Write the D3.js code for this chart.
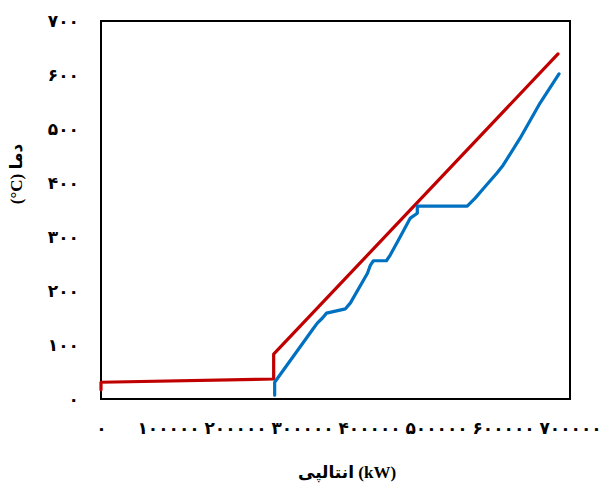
<!DOCTYPE html>
<html><head><meta charset="utf-8">
<script src="https://cdn.jsdelivr.net/npm/d3@7"></script>
<style>
body{margin:0;background:#fff;}
text{font-family:"Liberation Serif","DejaVu Sans",serif;font-weight:bold;fill:#000;}
</style></head>
<body><svg id="c" width="603" height="486"></svg>
<script>
// Hot stream (red)
const hotEnthalpy = [0, 0, 257700, 257700, 682100];
const hotTemp = [17, 31, 37, 83, 639];
// Cold stream (blue)
const coldEnthalpy = [259200, 259200, 317200, 323200, 330600, 336600, 364900, 372300, 397700, 402100, 406600, 426000, 431900, 443800, 461700, 472100, 472100, 546600, 558500, 568900, 591300, 600200, 625500, 655300, 683600];
const coldTemp = [7, 31, 131, 141, 150, 159, 167, 178, 233, 248, 256, 256, 267, 294, 335, 344, 357, 357, 372, 387, 419, 433, 483, 548, 602];
const xTicks = [0, 100000, 200000, 300000, 400000, 500000, 600000, 700000];
const yTicks = [0, 100, 200, 300, 400, 500, 600, 700];
const xTitle = "انتالپی (kW)";
const yTitle = "(°C) دما";

const fa = s => String(s).replace(/[0-9]/g, d => "۰۱۲۳۴۵۶۷۸۹"[+d]);

const svg = d3.select("#c");
const L = 101, R = 570, T = 21, B = 399;
const x = d3.scaleLinear().domain([0, 700000]).range([L, R]);
const y = d3.scaleLinear().domain([0, 700]).range([B, T]);

// Y axis labels
const ya = svg.append("g").attr("transform", `translate(${L - 22},0)`)
  .call(d3.axisLeft(y).tickValues(yTicks).tickSize(0).tickPadding(0).tickFormat(fa));
ya.select(".domain").remove();
ya.selectAll("text").style("font-size", "17px").style("font-family", null);

// X axis labels
const xa = svg.append("g").attr("transform", `translate(0,${B + 23})`)
  .call(d3.axisBottom(x).tickValues(xTicks).tickSize(0).tickPadding(0).tickFormat(fa));
xa.select(".domain").remove();
xa.selectAll("text").style("font-size", "17px").style("font-family", null);

// frame
svg.append("rect").attr("x", L).attr("y", T).attr("width", R - L).attr("height", B - T)
  .attr("fill", "none").attr("stroke", "#000").attr("stroke-width", 2);

const line = d3.line().x(d => x(d[0])).y(d => y(d[1]));
svg.append("path").datum(hotEnthalpy.map((v, i) => [v, hotTemp[i]]))
  .attr("d", line).attr("fill", "none").attr("stroke", "#C00000")
  .attr("stroke-width", 3.2).attr("stroke-linejoin", "round").attr("stroke-linecap", "round");
svg.append("path").datum(coldEnthalpy.map((v, i) => [v, coldTemp[i]]))
  .attr("d", line).attr("fill", "none").attr("stroke", "#0070C0")
  .attr("stroke-width", 3.2).attr("stroke-linejoin", "round").attr("stroke-linecap", "round");

// titles
svg.append("text").attr("x", 347).attr("y", 474).attr("text-anchor", "middle")
  .attr("dominant-baseline", "middle").style("font-size", "17px").text(xTitle);
svg.append("text").attr("transform", "translate(18,174) rotate(-90)").attr("text-anchor", "middle")
  .attr("dominant-baseline", "middle").style("font-size", "17px").text(yTitle);
</script></body></html>
